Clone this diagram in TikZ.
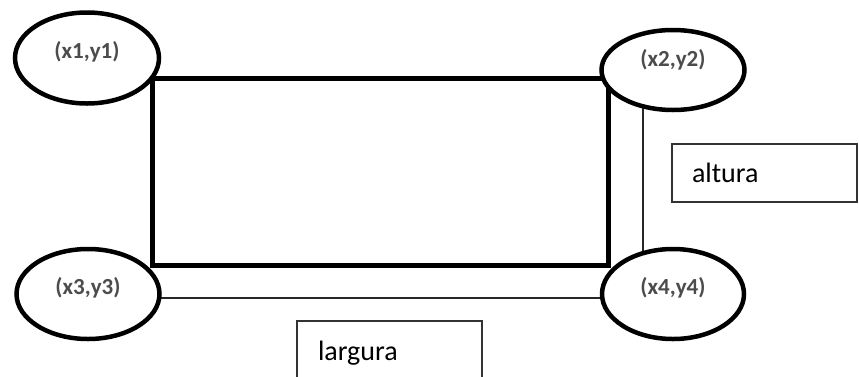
\documentclass[tikz,border=0pt]{standalone}
\usepackage{fontspec}
\setmainfont{Carlito}
\usetikzlibrary{shapes.geometric,backgrounds}
\tikzset{
  pt/.style={ellipse, draw=black, line width=4.5pt, fill=white, inner sep=0pt},
  ptlabel/.style={font=\fontsize{23}{26}\selectfont\bfseries, text=black!70},
  dimbox/.style={draw=black!80, line width=1.2pt, fill=white, rectangle, align=left,
    font=\fontsize{28}{32}\selectfont, inner ysep=0pt},
  thin/.style={line width=1.8pt, draw=black!85},
}
\begin{document}
\begin{tikzpicture}[x=1pt,y=-1pt]
\useasboundingbox (0,0) rectangle (859,376);
\node[pt, minimum width=144pt, minimum height=91pt,
  label={[ptlabel, yshift=6pt]center:(x1,y1)}] (e1) at (87,58) {};
\node[pt, minimum width=143pt, minimum height=80pt,
  label={[ptlabel, yshift=10pt]center:(x2,y2)}] (e2) at (673,70) {};
\node[pt, minimum width=143pt, minimum height=90pt,
  label={[ptlabel, yshift=6pt]center:(x3,y3)}] (e3) at (88,294) {};
\node[pt, minimum width=142pt, minimum height=90pt,
  label={[ptlabel, yshift=6pt]center:(x4,y4)}] (e4) at (673,294) {};
\coordinate (tl) at (152,78);
\coordinate (br) at (608,265);
\begin{scope}[on background layer]
  \draw[line width=5pt] (tl) rectangle (br);
  \draw[thin] ([xshift=-30pt]e2.center) -- ([xshift=-30pt]e4.center);
  \draw[thin] ([yshift=-4pt]e3.center) -- ([yshift=-4pt]e4.center);
\end{scope}
\node[dimbox, minimum width=185pt, minimum height=58pt, text width=145pt, inner xsep=20pt] (alt) at (764.5,173) {altura};
\node[dimbox, minimum width=185pt, minimum height=64pt, text width=143pt, inner xsep=21pt] (larg) at (389.5,353) {largura};
\end{tikzpicture}
\end{document}
